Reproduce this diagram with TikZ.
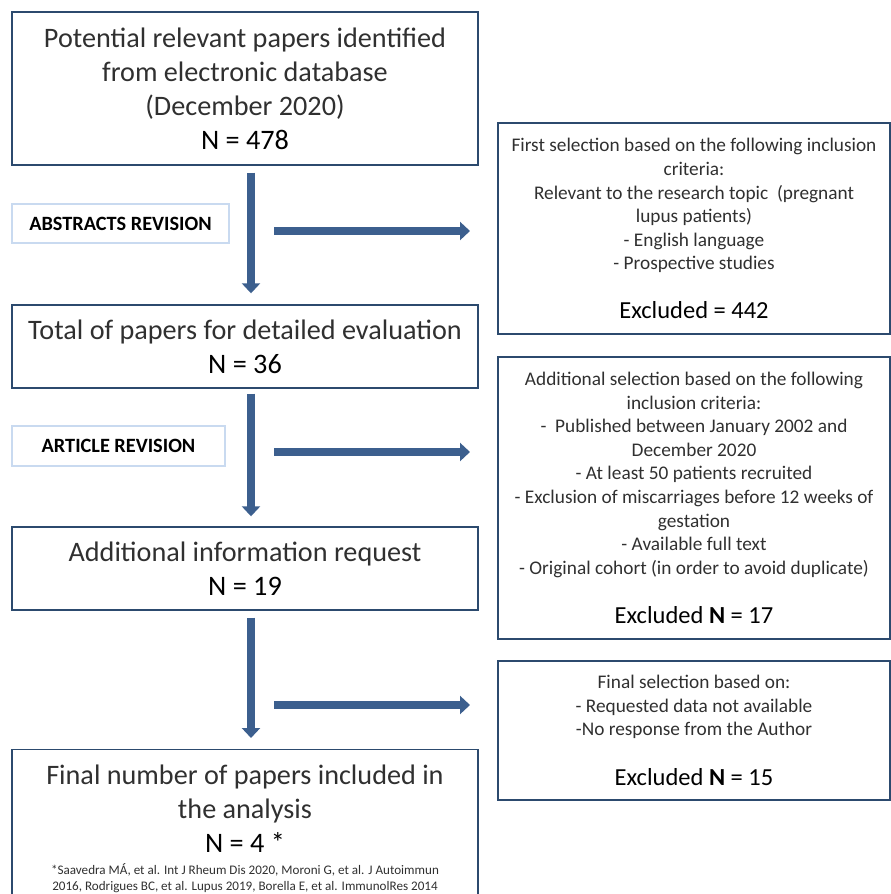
\documentclass[tikz,border=0pt]{standalone}
\usepackage{fontspec}
\setmainfont{Carlito}
\usetikzlibrary{arrows.meta}
\definecolor{arrowblue}{HTML}{3C5F8E}
\definecolor{boxline}{HTML}{2C4A6E}
\definecolor{lblline}{HTML}{C9DAF0}
\definecolor{txt}{HTML}{303030}
\begin{document}
\begin{tikzpicture}[x=1pt,y=-1pt,
  mainbox/.style={draw=boxline, line width=1.4pt, minimum width=466pt, inner sep=0pt,
    align=center, text=txt, font=\fontsize{28.2}{34}\selectfont},
  sidebox/.style={draw=boxline, line width=1.4pt, minimum width=392pt, inner sep=0pt,
    align=center, text=txt, font=\fontsize{19.3}{23.6}\selectfont},
  lblbox/.style={draw=lblline, line width=1.2pt, inner sep=0pt, text=black,
    font=\bfseries\fontsize{20.3}{22}\selectfont},
  flowarrow/.style={draw=arrowblue, line width=8pt,
    -{Triangle[width=18pt,length=10pt]}},
  exclfont/.style={}
]
\useasboundingbox (0,0) rectangle (891,894);

% left column boxes
\node[mainbox, minimum height=153pt] (b1) at (245,88.5)
  {Potential relevant papers identified\\from electronic database\\(December 2020)\\{\color{black}N = 478}};
\node[mainbox, minimum height=83pt] (b2) at (245,346.5)
  {Total of papers for detailed evaluation\\{\color{black}N = 36}};
\node[mainbox, minimum height=83pt] (b3) at (245,568.5)
  {Additional information request\\{\color{black}N = 19}};
\begin{scope}
\clip (0,0) rectangle (891,894);
\node[mainbox, minimum height=170pt, anchor=north] (b4) at (245,749) {};
\end{scope}
\node[align=center, text=txt, font=\fontsize{28.2}{34}\selectfont, inner sep=0pt] (b4t) at (245,809)
  {Final number of papers included in\\the analysis\\{\color{black}N = 4 *}};
\node[align=center, text=txt, font=\fontsize{13.1}{16}\selectfont, inner sep=0pt] (b4n) at (245,878.5)
  {*Saavedra MÁ, et al. Int J Rheum Dis 2020, Moroni G, et al. J Autoimmun\\2016, Rodrigues BC, et al. Lupus 2019, Borella E, et al. ImmunolRes 2014};

% label boxes
\node[lblbox, minimum width=217pt, minimum height=39pt] (l1) at (120.5,223.5) {ABSTRACTS REVISION};
\node[lblbox, minimum width=213pt, minimum height=40pt] (l2) at (118.5,446) {ARTICLE REVISION};

% right column boxes
\node[sidebox, minimum height=211pt] (s1) at (694,228.5)
  {First selection based on the following inclusion\\criteria:\\Relevant to the research topic~ (pregnant\\lupus patients)\\- English language\\- Prospective studies\\[25pt]{\color{black}\fontsize{24.5}{24}\selectfont Excluded = 442}};
\node[sidebox, minimum height=282pt] (s2) at (694,498)
  {Additional selection based on the following\\inclusion criteria:\\-~ Published between January 2002 and\\December 2020\\- At least 50 patients recruited\\- Exclusion of miscarriages before 12 weeks of\\gestation\\- Available full text\\- Original cohort (in order to avoid duplicate)\\[26pt]{\color{black}\fontsize{24.5}{24}\selectfont Excluded \textbf{N} = 17}};
\node[sidebox, minimum height=139pt] (s3) at (694,730.5)
  {Final selection based on:\\- Requested data not available\\-No response from the Author\\[26pt]{\color{black}\fontsize{24.5}{24}\selectfont Excluded \textbf{N} = 15}};

% arrow end coordinates
\coordinate (h1a) at (274,231);  \coordinate (h1b) at (470,231);
\coordinate (h2a) at (274,452);  \coordinate (h2b) at (470,452);
\coordinate (h3a) at (274,705);  \coordinate (h3b) at (470,705);

% vertical arrows
\draw[flowarrow] ([xshift=6pt,yshift=-7pt]b1.south) -- ([xshift=6pt,yshift=11pt]b2.north);
\draw[flowarrow] ([xshift=6pt,yshift=-5pt]b2.south) -- ([xshift=6pt,yshift=10pt]b3.north);
\draw[flowarrow] ([xshift=6pt,yshift=-7pt]b3.south) -- ([xshift=6pt,yshift=11pt]b4.north);

% horizontal arrows
\draw[flowarrow] (h1a) -- (h1b);
\draw[flowarrow] (h2a) -- (h2b);
\draw[flowarrow] (h3a) -- (h3b);
\end{tikzpicture}
\end{document}
